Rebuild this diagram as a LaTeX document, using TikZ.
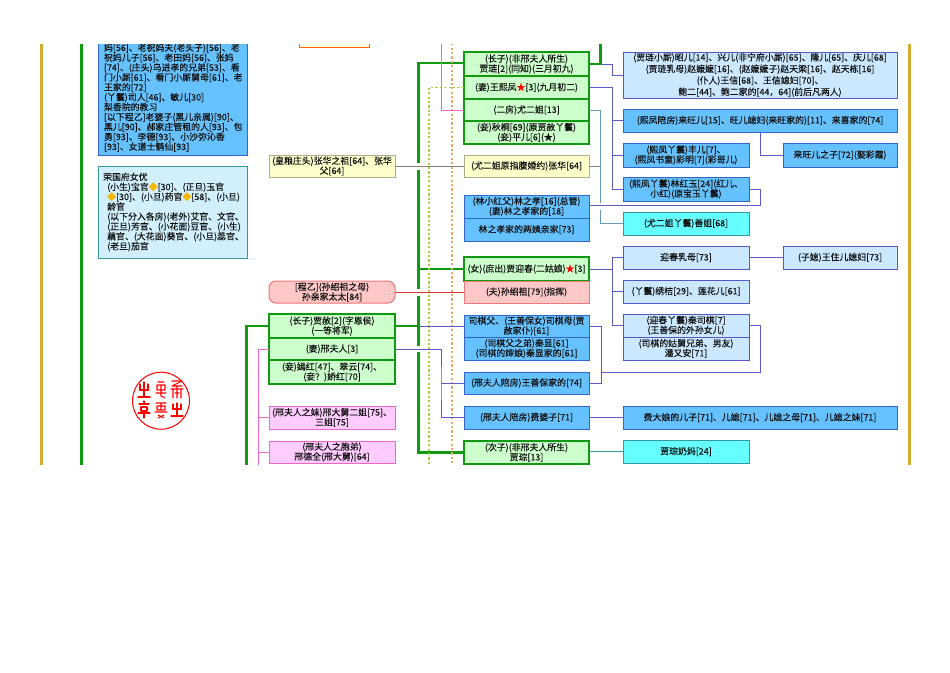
\documentclass[tikz,border=0pt]{standalone}
\usepackage{fontspec}
\setmainfont{Noto Sans CJK SC}[FakeBold=0.18]
\definecolor{gbord}{HTML}{109A10}
\definecolor{gfill}{HTML}{CCFFCC}
\definecolor{bbord}{HTML}{3366CC}
\definecolor{bfill}{HTML}{66C2FF}
\definecolor{lbord}{HTML}{5555CC}
\definecolor{lfill}{HTML}{CCE8FF}
\definecolor{cbord}{HTML}{339999}
\definecolor{cfill}{HTML}{66FFFF}
\definecolor{ybord}{HTML}{B0AC90}
\definecolor{yfill}{HTML}{FFFFCC}
\definecolor{pbord}{HTML}{EE66CC}
\definecolor{pfill}{HTML}{FFCCFF}
\definecolor{rbord}{HTML}{EE7777}
\definecolor{rfill}{HTML}{FFC8C8}
\definecolor{ruleg}{HTML}{D6AC30}
\definecolor{ink}{HTML}{111111}
\definecolor{dia}{HTML}{F5B800}
\definecolor{dotg}{HTML}{A8CC44}
\definecolor{doto}{HTML}{F0A860}
\definecolor{wire}{HTML}{5A5AC8}
\definecolor{steel}{HTML}{6699BB}
\newcommand{\rs}{\textcolor{red}{★}}
\newcommand{\ds}{\textcolor{dia}{◆}}
\newcommand{\bx}[7]{\node[#2,minimum width={(#5-#3)*1pt},minimum height={(#6-#4)*1pt}] (#1) at ({(#3+#5)/2},{(#4+#6)/2}) {#7};}
\tikzset{
  base/.style={inner sep=0pt,outer sep=0pt,align=center,text=ink,font=\fontsize{8.9}{9.9}\selectfont},
  greenc/.style={base,draw=gbord,fill=gfill,line width=2.2pt},
  bluec/.style={base,draw=bbord,fill=bfill,line width=1pt},
  lblue/.style={base,draw=lbord,fill=lfill,line width=1pt},
  cyanc/.style={base,draw=cbord,fill=cfill,line width=1pt},
  yel/.style={base,draw=ybord,fill=yfill,line width=1pt},
  pinkc/.style={base,draw=pbord,fill=pfill,line width=.9pt},
  redc/.style={base,draw=rbord,fill=rfill,line width=1pt},
  redr/.style={redc,rounded corners=7pt},
  thickg/.style={draw=gbord,line width=2.4pt},
  wirel/.style={draw=wire,line width=.9pt},
  stl/.style={draw=steel,line width=.9pt},
  pinkl/.style={draw=pbord,line width=1pt},
  seal/.style={draw=red,line width=1.1pt,line cap=round,line join=round}
}
\begin{document}
\begin{tikzpicture}[x=1pt,y=-1pt]
\useasboundingbox (0,0) rectangle (950,672);
\begin{scope}
\clip (0,44) rectangle (950,464);
% long rules
\coordinate (yl0) at (41.5,30); \coordinate (yl1) at (41.5,480);
\coordinate (yr0) at (909.5,30); \coordinate (yr1) at (909.5,480);
\coordinate (gl0) at (81.5,30); \coordinate (gl1) at (81.5,480);
\draw[draw=ruleg,line width=2.2pt] (yl0)--(yl1);
\draw[draw=ruleg,line width=2.2pt] (yr0)--(yr1);
\draw[draw=gbord,line width=2.4pt] (gl0)--(gl1);
% left text boxes
\bx{stage}{base,draw=bbord,fill=bfill,line width=1pt}{98}{30}{247}{155.7}{}
\node[base,align=left,anchor=south west] (staff) at (104,151.5) {妈[56]、老祝妈夫(老头子)[56]、老\\祝妈儿子[56]、老田妈[56]、张妈\\{}[74]、(庄头)乌进孝的兄弟[53]、看\\门小厮[61]、看门小厮舅母[61]、老\\王家的[72]\\(丫鬟)司人[46]、敏儿[30]\\梨香院的教习\\{}[以下程乙]老婆子(黑儿亲属)[90]、\\黑儿[90]、郝家庄管租的人[93]、包\\勇[93]、李德[93]、小沙弥沁香\\{}[93]、女道士鹤仙[93]};
\bx{actors}{base,draw=cbord,fill=cyan!18,line width=1pt,align=left}{98}{166}{247}{258}{\hspace*{2pt}荣国府女优\\ \hspace*{6pt}(小生)宝官\ds[30]、(正旦)玉官\\ \hspace*{6pt}\ds[30]、(小旦)药官\ds[58]、(小旦)\\ \hspace*{6pt}龄官\\ \hspace*{6pt}(以下分入各房)(老外)艾官、文官、\\ \hspace*{6pt}(正旦)芳官、(小花面)豆官、(小生)\\ \hspace*{6pt}藕官、(大花面)葵官、(小旦)蕊官、\\ \hspace*{6pt}(老旦)茄官}
\bx{topred}{base,draw=orange!80!red,fill=yfill!50,line width=1pt}{299}{30}{369}{47}{}
% Jia Lian family
\bx{lian}{greenc}{464}{52}{589}{76}{(长子)(非邢夫人所生)\\贾琏[2](同知)(三月初九)}
\bx{fengj}{greenc}{464}{76}{589}{99}{(妻)王熙凤\rs[3](九月初二)}
\bx{you}{greenc}{464}{99}{589}{121}{(二房)尤二姐[13]}
\bx{qiu}{greenc}{464}{121}{589}{144}{(妾)秋桐[69](原贾赦丫鬟)\\(妾)平儿[6](★)}
\bx{zhangf}{yel}{269}{155}{395}{177}{(皇粮庄头)张华之祖[64]、张华\\父[64]}
\bx{zhang}{yel}{464}{155}{589}{177}{(尤二姐原指腹婚约)张华[64]}
\bx{lin}{bluec}{464}{195}{589}{218}{(林小红父)林之孝[16](总管)\\(妻)林之孝家的[18]}
\bx{linq}{bluec}{464}{218}{589}{241}{林之孝家的两姨亲家[73]}
% right column upper
\bx{zhao}{lblue}{623}{52}{897}{98}{(贾琏小厮)昭儿[14]、兴儿(非宁府小厮)[65]、隆儿[65]、庆儿[68]\\[1.6pt](贾琏乳母)赵嬷嬷[16]、(赵嬷嬷子)赵天梁[16]、赵天栋[16]\\[1.6pt](仆人)王信[68]、王信媳妇[70]、\\[1.6pt]鲍二[44]、鲍二家的[44，64](前后凡两人)}
\bx{lai}{bluec}{623}{109}{897}{132}{(熙凤陪房)来旺儿[15]、旺儿媳妇(来旺家的)[11]、来喜家的[74]}
\bx{feng}{bluec}{623}{143}{749}{167}{(熙凤丫鬟)丰儿[7]、\\(熙凤书童)彩明[7](彩哥儿)}
\bx{laiz}{bluec}{783}{143}{897}{167}{来旺儿之子[72](娶彩霞)}
\bx{hong}{bluec}{623}{177}{749}{201}{(熙凤丫鬟)林红玉[24](红儿、\\小红)(原宝玉丫鬟)}
\bx{shan}{cyanc}{623}{212}{749}{235}{(尤二姐丫鬟)善姐[68]}
% Yingchun
\bx{ying}{greenc}{464}{257}{589}{281}{(女)(庶出)贾迎春(二姑娘)\rs[3]}
\bx{sun}{redc}{464}{281}{589}{303}{(夫)孙绍祖[79](指挥)}
\bx{sunm}{redr}{269}{281}{395}{303}{{}[程乙](孙绍祖之母)\\孙亲家太太[84]}
\bx{rum}{lblue}{623}{246}{749}{269}{迎春乳母[73]}
\bx{zhu}{lblue}{783}{246}{897}{269}{(子媳)王住儿媳妇[73]}
\bx{xiu}{lblue}{623}{280}{749}{303}{(丫鬟)绣桔[29]、莲花儿[61]}
\bx{siqi}{lblue}{623}{314}{749}{337}{(迎春丫鬟)秦司棋[7]\\(王善保的外孙女儿)}
\bx{pan}{lblue}{623}{337}{749}{360}{(司棋的姑舅兄弟、男友)\\潘又安[71]}
% Jia She
\bx{she}{greenc}{269}{314}{395}{338}{(长子)贾赦[2](字恩侯)\\(一等将军)}
\bx{xing}{greenc}{269}{338}{395}{360}{(妻)邢夫人[3]}
\bx{yan}{greenc}{269}{360}{395}{384}{(妾)嫣红[47]、翠云[74]、\\(妾？)娇红[70]}
\bx{er}{pinkc}{269}{406}{395}{429}{(邢夫人之妹)邢大舅二姐[75]、\\三姐[75]}
\bx{de}{pinkc}{269}{441}{395}{463}{(邢夫人之胞弟)\\邢德全(邢大舅)[64]}
\bx{sif}{bluec}{464}{315}{589}{337}{司棋父、(王善保女)司棋母(贾\\赦家仆)[61]}
\bx{qin}{bluec}{464}{337}{589}{360}{(司棋父之弟)秦显[61]\\(司棋的婶娘)秦显家的[61]}
\bx{wang}{bluec}{464}{372}{589}{394}{(邢夫人陪房)王善保家的[74]}
\bx{fei}{bluec}{464}{406}{589}{429}{(邢夫人陪房)费婆子[71]}
\bx{cong}{greenc}{464}{441}{589}{464}{(次子)(非邢夫人所生)\\贾琮[13]}
\bx{feid}{bluec}{623}{406}{897}{429}{费大娘的儿子[71]、儿媳[71]、儿媳之母[71]、儿媳之妹[71]}
\bx{nai}{cyanc}{623}{440}{749}{463}{贾琮奶妈[24]}
% trunk coordinates
\coordinate (gt0) at (418.5,63); \coordinate (gt1) at (418.5,163);
\coordinate (gt2) at (418.5,170); \coordinate (gt3) at (418.5,289);
\coordinate (gt4) at (418.5,296); \coordinate (gt5) at (418.5,345.5);
\coordinate (gt6) at (418.5,352); \coordinate (gt7) at (418.5,452.5);
\coordinate (lt) at (600.5,30); \coordinate (ltb) at (600.5,64);
\coordinate (sl) at (246.5,480);
\coordinate (pl) at (258,480);
\coordinate (pk) at (441,30);
\coordinate (do0) at (452,30); \coordinate (do1) at (452,480);
\coordinate (dg) at (429,480);
\coordinate (b1) at (612,64);
\coordinate (b2) at (612,87.5);
\coordinate (b3) at (760,132);
\coordinate (b4) at (760,205.5);
\coordinate (b5) at (600,205.5);
\coordinate (b6) at (600,203);
\coordinate (b7) at (600,210);
\coordinate (b8) at (612,269);
\coordinate (b9) at (601,326);
\coordinate (b10) at (601,372.5);
\coordinate (b11) at (760,372.5);
\coordinate (b12) at (441,383);
% green trunks
\draw[thickg] (gt1)--(gt0)--(lian.west |- gt0);
\draw[thickg] (gt2)--(gt3);
\draw[thickg] (gt4)--(gt5);
\draw[thickg] (gt6)--(gt7)--(cong.west |- gt7);
\draw[thickg] (ying.west)--(ying.west -| gt0);
\draw[thickg] (she.east)--(she.east -| gt0);
\draw[thickg] (lian.east |- ltb)--(ltb)--(lt);
\draw[thickg,line width=2.1pt] (she.west)-|(sl);
% dotted
\draw[draw=doto,line width=1.8pt,dash pattern=on 2.2pt off 2.2pt] (do0)--(do1);
\draw[draw=dotg,line width=1.8pt,dash pattern=on 2.2pt off 2.2pt] (fengj.west)-|(dg);
% pink
\draw[pinkl] (pk)|-(you.west);
\draw[pinkl] (xing.west)-|(pl);
\draw[pinkl] (er.west)--(er.west -| pl);
\draw[pinkl] (de.west)--(de.west -| pl);
% grey and red links
\draw[draw=gray,line width=.9pt] (zhangf.east)--(zhang.west);
\draw[draw=gray,line width=.9pt] (zhang.east)--(zhang.east -| b5);
\draw[draw=red!80!black!80,line width=.9pt] (sunm.east)--(sun.west);
% Lian branches
\draw[wirel] (ltb)--(b1)|-(zhao.west);
\draw[wirel] (fengj.east)-|(hong.west -| b2)|-(hong.west);
\draw[wirel] (lai.west)--(lai.west -| b2);
\draw[wirel] (feng.west)--(feng.west -| b2);
\draw[wirel] (b3)|-(laiz.west);
\draw[wirel] (hong.east)-|(b4)--(lin.east |- b4);
\draw[stl] (you.east)-|(b6);
\draw[stl] (b7)|-(shan.west);
% Ying branches
\draw[wirel] (ying.east |- b8)--(b8);
\draw[wirel] (b8 |- rum.west)--(b8 |- siqi.west);
\draw[wirel] (rum.west)--(rum.west -| b8);
\draw[wirel] (xiu.west)--(xiu.west -| b8);
\draw[wirel] (siqi.west)--(siqi.west -| b8);
\draw[wirel] (rum.east)--(zhu.west);
% She branches
\draw[wirel] (sif.west |- b9)--(she.east -| gt0);
\draw[wirel] (xing.east)-|(b12)|-(fei.west);
\draw[wirel] (wang.west)--(wang.west -| b12);
\draw[wirel] (sif.east |- b9)--(b9)|-(wang.east);
\draw[wirel] (b10)--(b11)|-(siqi.east);
\draw[wirel] (fei.east)--(feid.west);
\draw[draw=cbord,line width=.9pt] (cong.east |- nai.west)--(nai.west);
% seal
\node[circle,draw=red,line width=1pt,minimum size=57pt,inner sep=0pt] (sealring) at (161,400.7) {};
\draw[seal] (144,382)--(144,397) (138,397)--(150,397) (139.5,390)--(148.5,390) (140,384)--(140,390) (148,384)--(148,390);
\draw[seal] (144,401)--(144,404) (139,404)--(149,404) (141,407) rectangle (147,411) (138,413)--(150,413) (144,411)--(144,418);
\draw[seal] (158,382)--(164,382) (157,385)--(165,385)--(165,390)--(157,390)--(157,385) (161,385)--(161,396)--(165,398) (156,393)--(166,393);
\draw[seal] (156,403)--(166,403) (157,406)--(165,406)--(165,410)--(157,410)--cycle (161,403)--(161,410) (155,412)--(167,412) (158,415)--(164,418) (164,415)--(158,418);
\draw[seal] (172,381)--(182,381)--(172,386)--(182,386) (171,389)--(183,389) (173,389)--(173,398) (181,389)--(181,398) (177,386)--(177,398) (175,393)--(179,393);
\draw[seal] (177,403)--(177,416) (171,416)--(183,416) (172.5,409)--(181.5,409) (173,404)--(173,409) (181,404)--(181,409);
\end{scope}
\end{tikzpicture}
\end{document}
